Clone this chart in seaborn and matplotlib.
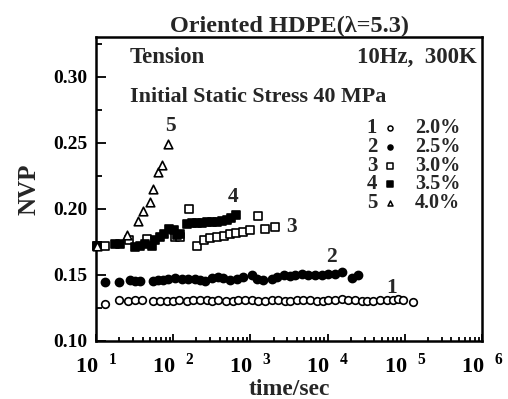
import numpy as np
import pandas as pd
import matplotlib
matplotlib.use("Agg")
import matplotlib.pyplot as plt
import matplotlib.ticker as mticker
import seaborn as sns

# values (time in sec, NVP)
t1 = [13, 20, 26, 32, 39, 55, 67, 84, 100, 120, 150, 182, 222, 272, 315, 384,
      483, 590, 697, 851, 1040, 1266, 1545, 1888, 2300, 2806, 3258, 3981, 4844,
      5916, 7225, 8790, 10200, 12470, 15240, 18550, 22650, 27670, 32130, 39100,
      47750, 58300, 71000, 82400, 95700, 127600]
nvp1 = [0.128, 0.1305, 0.1302, 0.1306, 0.1306, 0.1298, 0.1300, 0.1302, 0.1303,
        0.1305, 0.1303, 0.1306, 0.1310, 0.1305, 0.1302, 0.1312, 0.1300, 0.1303,
        0.1305, 0.1306, 0.1310, 0.1303, 0.1302, 0.1305, 0.1306, 0.1303, 0.1302,
        0.1305, 0.1310, 0.1306, 0.1303, 0.1302, 0.1306, 0.1310, 0.1315, 0.1308,
        0.1305, 0.1302, 0.1300, 0.1303, 0.1305, 0.1306, 0.1310, 0.1315, 0.1305,
        0.1290]

t2 = [13, 20, 27.5, 32, 37, 55, 64, 74.5, 86.5, 105, 128, 156, 192, 222, 258,
      315, 384, 444, 541, 661, 808, 1040, 1208, 1470, 1888, 2194, 2680, 3258,
      3780, 4620, 5640, 6880, 8410, 10200, 12470, 15240, 20600, 25000]
nvp2 = [0.1445, 0.1445, 0.1457, 0.1450, 0.1450, 0.1450, 0.1457, 0.1457, 0.1465,
        0.1475, 0.1470, 0.1465, 0.1465, 0.1457, 0.1450, 0.1475, 0.1483, 0.1475,
        0.1457, 0.1465, 0.1483, 0.1495, 0.1470, 0.1457, 0.1470, 0.1483, 0.1495,
        0.1490, 0.1500, 0.1508, 0.1495, 0.1500, 0.1495, 0.1508, 0.1508, 0.1521,
        0.1475, 0.1500]

t3 = [10.3, 13.2, 26.5, 45.8, 106, 124, 159, 203, 248, 303, 369, 451, 550, 651,
      809, 988, 1266, 1545, 2083]
nvp3 = [0.172, 0.172, 0.176, 0.177, 0.1786, 0.1786, 0.1995, 0.172, 0.1765,
        0.1778, 0.1788, 0.1793, 0.1805, 0.1815, 0.1824, 0.1836, 0.1945, 0.1849,
        0.1862]

t4 = [10.3, 17.6, 20.5, 32.3, 37.5, 43.5, 53.1, 58.6, 68.1, 75.3, 87.5, 101, 112,
      124, 151, 175, 203, 236, 274, 318, 369, 429, 498, 561, 651]
nvp4 = [0.172, 0.173, 0.1735, 0.171, 0.172, 0.1735, 0.172, 0.176, 0.1786, 0.181,
        0.1849, 0.1836, 0.180, 0.181, 0.1887, 0.189, 0.1894, 0.1894, 0.190,
        0.190, 0.190, 0.1906, 0.1917, 0.1932, 0.195]

t5 = [10.3, 25, 35.3, 41, 50, 55.2, 64.1, 71, 86.5]
nvp5 = [0.172, 0.180, 0.191, 0.198, 0.205, 0.215, 0.2278, 0.233, 0.2493]

strains = ["2.0%", "2.5%", "3.0%", "3.5%", "4.0%"]
series_ids = ["1", "2", "3", "4", "5"]

sns.set_style("ticks")
plt.rcParams["font.family"] = ["Liberation Serif", "DejaVu Serif"]
plt.rcParams["font.weight"] = "bold"
plt.rcParams["mathtext.fontset"] = "custom"
plt.rcParams["mathtext.rm"] = "Liberation Serif:bold"
plt.rcParams["mathtext.bf"] = "Liberation Serif:bold"

fig = plt.figure(figsize=(5.08, 3.99), dpi=100)
ax = fig.add_axes([0.189, 0.146, 0.760, 0.761])

styles = [
    dict(marker="o", facecolor="white", s=30),
    dict(marker="o", facecolor="black", s=34),
    dict(marker="s", facecolor="white", s=30),
    dict(marker="s", facecolor="black", s=32),
    dict(marker="^", facecolor="white", s=38),
]
data = [(t1, nvp1), (t2, nvp2), (t3, nvp3), (t4, nvp4), (t5, nvp5)]

for (t, v), st in zip(data, styles):
    df = pd.DataFrame({"time": t, "nvp": v})
    sns.scatterplot(data=df, x="time", y="nvp", ax=ax, marker=st["marker"],
                    s=st["s"], facecolor=st["facecolor"], edgecolor="black",
                    linewidth=1.2, clip_on=False, zorder=3)

ax.set_xscale("log")
ax.set_xlim(10, 1e6)
ax.set_ylim(0.10, 0.33)

ax.yaxis.set_major_locator(mticker.MultipleLocator(0.05))
ax.yaxis.set_minor_locator(mticker.MultipleLocator(0.025))
ax.yaxis.set_major_formatter(mticker.FormatStrFormatter("%.2f"))
ax.xaxis.set_major_locator(mticker.LogLocator(base=10, numticks=10))
ax.xaxis.set_minor_locator(mticker.LogLocator(base=10, subs=np.arange(2, 10), numticks=20))
ax.xaxis.set_minor_formatter(mticker.NullFormatter())
ax.xaxis.set_major_formatter(mticker.FuncFormatter(
    lambda v, p: r"$\mathbf{10}^{\ \ \mathbf{%d}}$" % round(np.log10(v))))

ax.tick_params(axis="both", which="both", direction="in", top=False, right=False,
               colors="black", width=1.3)
ax.tick_params(axis="y", which="major", length=7, labelsize=14, pad=6)
ax.tick_params(axis="y", which="minor", length=4)
ax.tick_params(axis="x", which="major", length=5, labelsize=16, pad=9)
ax.tick_params(axis="x", which="minor", length=3)
for lab in ax.get_yticklabels():
    lab.set_fontweight("bold")
for lab in ax.get_xticklabels():
    # nudge so the "10" sits on the tick like in the original
    lab.set_horizontalalignment("center")
for sp in ax.spines.values():
    sp.set_visible(True)
    sp.set_linewidth(1.8)
    sp.set_color("black")

ax.set_xlabel("time/sec", fontsize=17, fontweight="bold", labelpad=1)
ax.set_ylabel("NVP", fontsize=18, fontweight="bold", labelpad=9)
ax.set_title("Oriented HDPE(\u03bb=5.3)", fontsize=17.5, fontweight="bold", pad=4)

ax.text(0.088, 0.934, "Tension", transform=ax.transAxes, fontsize=16.5,
        fontweight="bold", va="center", ha="left")
ax.text(0.987, 0.934, "10Hz,  300K", transform=ax.transAxes, fontsize=16.5,
        fontweight="bold", va="center", ha="right")
ax.text(0.088, 0.803, "Initial Static Stress 40 MPa", transform=ax.transAxes,
        fontsize=15.8, fontweight="bold", va="center", ha="left")

# key on the right
rows_y = [0.70, 0.638, 0.576, 0.516, 0.454]
for sid, lab, st, yy in zip(series_ids, strains, styles, rows_y):
    ax.text(0.715, yy, sid, transform=ax.transAxes, fontsize=15,
            fontweight="bold", va="center", ha="center")
    ax.scatter([0.762], [yy], transform=ax.transAxes, marker=st["marker"],
               s=13, facecolor=st["facecolor"], edgecolor="black", linewidth=1.1)
    ax.text(0.826, yy, lab, transform=ax.transAxes, fontsize=14.5,
            fontweight="bold", va="center", ha="left")

# series numbers next to curves
lab_pos = [(68200, 0.140), (11070, 0.1637), (3357, 0.1864), (596, 0.209), (91, 0.263)]
for sid, (tx, ty) in zip(series_ids, lab_pos):
    ax.text(tx, ty, sid, fontsize=15.5, fontweight="bold", ha="center", va="center")

fig.savefig("out.png", dpi=100)
